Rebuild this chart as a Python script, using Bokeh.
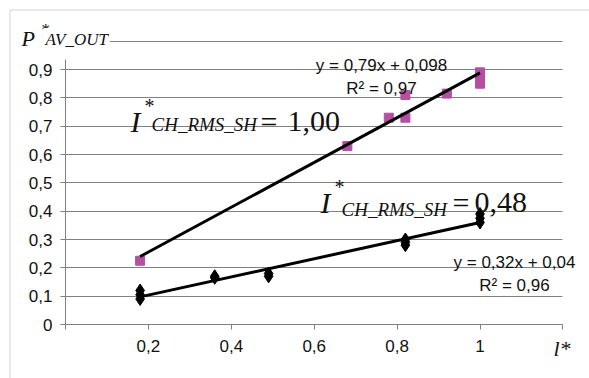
from bokeh.plotting import figure
from bokeh.models import Range1d, FixedTicker, CustomJSTickFormatter, Label, BoxAnnotation
from bokeh.embed import file_html
from bokeh.resources import INLINE

# ---------------- data ----------------
x_i100 = [0.18, 0.68, 0.78, 0.82, 0.82, 0.92, 1.0, 1.0, 1.0]
y_i100 = [0.225, 0.63, 0.73, 0.73, 0.81, 0.815, 0.89, 0.87, 0.85]

x_i048 = [0.18, 0.18, 0.18, 0.36, 0.36, 0.49, 0.49, 0.82, 0.82, 0.82, 1.0, 1.0, 1.0]
y_i048 = [0.09, 0.105, 0.12, 0.165, 0.17, 0.17, 0.18, 0.28, 0.29, 0.30, 0.36, 0.375, 0.39]

trend_i100 = (0.79, 0.098)
trend_i048 = (0.32, 0.04)

eq_i100 = ["y = 0,79x + 0,098", "R² = 0,97"]
eq_i048 = ["y = 0,32x + 0,04", "R² = 0,96"]

x_ticks = [0, 0.2, 0.4, 0.6, 0.8, 1.0, 1.2]
y_ticks = [0, 0.1, 0.2, 0.3, 0.4, 0.5, 0.6, 0.7, 0.8, 0.9]
grid_ticks = [0.1, 0.2, 0.3, 0.4, 0.5, 0.6, 0.7, 0.8, 0.9, 1.0]

# ---------------- layout (frame = whole canvas, axes placed inside) ----------------
W, H = 589, 378
X0, XS = 65.0, 414.5      # pixel of x=0, pixels per unit
Y0, YS = 324.0, 283.3     # pixel of y=0, pixels per unit
XMAX = 1.2


def dx(px):
    return (px - X0) / XS


def dy(py):
    return (Y0 - py) / YS


p = figure(width=W, height=H, output_backend="svg", toolbar_location=None,
           x_range=Range1d(dx(0), dx(W)), y_range=Range1d(dy(H), dy(0)),
           min_border_left=0, min_border_right=0, min_border_top=0, min_border_bottom=0)
p.outline_line_color = None
p.background_fill_color = "white"
p.border_fill_color = "white"

GRAY = "#808080"
TXT = "#111111"
SANS = "Liberation Sans"
SERIF = "Liberation Serif"

p.xgrid.visible = False
p.ygrid.ticker = FixedTicker(ticks=grid_ticks)
p.ygrid.grid_line_color = GRAY
p.ygrid.grid_line_width = 1
if "cross_bounds" in p.ygrid[0].properties():
    p.ygrid.cross_bounds = (0, XMAX)
    use_segments = False
else:
    p.ygrid.visible = False
    use_segments = True

for ax in (p.xaxis[0], p.yaxis[0]):
    ax.fixed_location = 0
    ax.axis_line_color = GRAY
    ax.major_tick_line_color = GRAY
    ax.minor_tick_line_color = None
    ax.major_tick_in = 0
    ax.major_tick_out = 5
    ax.major_label_text_font = SANS
    ax.major_label_text_font_size = "17px"
    ax.major_label_text_color = TXT

p.xaxis.ticker = FixedTicker(ticks=x_ticks)
p.xaxis.bounds = (0, XMAX)
p.xaxis.major_label_standoff = 10
p.xaxis.formatter = CustomJSTickFormatter(code="""
const v = Math.round(tick*10)/10;
if (v < 0.05 || v > 1.15) return "";
return v.toString().replace(".", ",");
""")
p.yaxis.ticker = FixedTicker(ticks=y_ticks)
p.yaxis.bounds = (0, 0.935)
p.yaxis.major_label_standoff = 8
p.yaxis.formatter = CustomJSTickFormatter(code="""
const v = Math.round(tick*10)/10;
return v.toString().replace(".", ",");
""")

if use_segments:
    p.segment(x0=[0] * len(grid_ticks), y0=grid_ticks, x1=[XMAX] * len(grid_ticks), y1=grid_ticks,
              line_color=GRAY, line_width=1, level="underlay")

# ---------------- marks ----------------
p.scatter(x_i100, y_i100, marker="square", size=9, fill_color="#B44FA2", line_color="#B44FA2")
p.scatter(x_i048, y_i048, marker="diamond", size=13, fill_color="black", line_color="black")

for xs, (m, b) in ((x_i100, trend_i100), (x_i048, trend_i048)):
    x0, x1 = min(xs), max(xs)
    p.line([x0, x1], [m * x0 + b, m * x1 + b], line_color="black", line_width=3)

# ---------------- equations ----------------
def sans_label(txt, x, y):
    p.add_layout(Label(x=x, y=y, text=txt, text_font=SANS, text_font_size="17px",
                       text_color=TXT, text_align="center", text_baseline="alphabetic"))

sans_label(eq_i100[0], dx(381), dy(65))
sans_label(eq_i100[1], dx(381), dy(88))
sans_label(eq_i048[0], dx(514), dy(262))
sans_label(eq_i048[1], dx(514), dy(285))

# ---------------- big formula labels ----------------
def formula(x, sub_y, value_txt, i_rise, eq_dx, val_dx):
    parts = [
        ("I", 0, i_rise, "30px", "italic"),
        ("*", 14, i_rise + 15, "20px", "normal"),
        ("CH_RMS_SH", 21, 0, "19px", "italic"),
        ("=", eq_dx, i_rise, "30px", "normal"),
        (value_txt, val_dx, i_rise, "30px", "normal"),
    ]
    for txt, ox, oy, fs, style in parts:
        p.add_layout(Label(x=x, y=sub_y, x_offset=ox, y_offset=oy, text=txt,
                           text_font=SERIF, text_font_size=fs, text_font_style=style,
                           text_color=TXT, text_align="left", text_baseline="alphabetic"))

formula(dx(130), dy(123.7), "1,00", 3, 130, 157)
formula(dx(320), dy(208.7), "0,48", 7, 132, 154)

# ---------------- axis titles ----------------
p.add_layout(Label(x=dx(21), y=dy(38), text="P", text_font=SERIF, text_font_size="22px",
                   text_font_style="italic", text_color=TXT, text_baseline="alphabetic"))
p.add_layout(Label(x=dx(41), y=dy(29), text="*", text_font=SERIF, text_font_size="17px",
                   text_color=TXT, text_baseline="alphabetic"))
p.add_layout(Label(x=dx(43), y=dy(39), text="AV_OUT", text_font=SERIF, text_font_size="17px",
                   text_font_style="italic", text_color=TXT, text_baseline="alphabetic",
                   background_fill_color="white", padding=2))
p.add_layout(Label(x=dx(553), y=dy(348), text="l*", text_font=SERIF, text_font_size="22px",
                   text_font_style="italic", text_color=TXT, text_baseline="alphabetic"))

# ---------------- outer chart border ----------------
p.add_layout(BoxAnnotation(left=dx(9.5), top=dy(9.5), right=dx(800), bottom=dy(600),
                           fill_color=None, line_color="#707070", line_width=1))

open("out.html", "w").write(file_html(p, INLINE))
